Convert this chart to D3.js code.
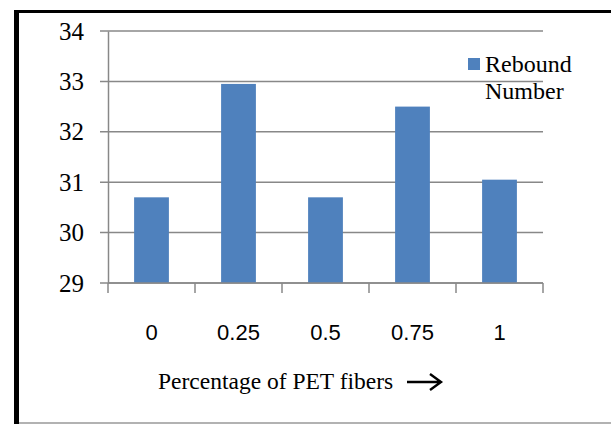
<!DOCTYPE html>
<html>
<head>
<meta charset="utf-8">
<script src="https://cdn.jsdelivr.net/npm/d3@7"></script>
<style>
  body { margin: 0; background: #fff; }
  svg { display: block; }
</style>
</head>
<body>
<svg id="chart" width="611" height="424"></svg>
<script>
// data
const categories = ["0", "0.25", "0.5", "0.75", "1"];
const rebound = [30.7, 32.95, 30.7, 32.5, 31.05];
const yTicks = [29, 30, 31, 32, 33, 34];
const seriesName = ["Rebound", "Number"];

const svg = d3.select("#chart");
const margin = { left: 108, right: 68, top: 31, bottom: 141 };
const W = 611, H = 424;

// frame round the chart
svg.append("line").attr("x1", 16.5).attr("x2", 16.5).attr("y1", 10).attr("y2", 424)
  .attr("stroke", "#000").attr("stroke-width", 5);
svg.append("line").attr("x1", 14).attr("x2", W).attr("y1", 11.5).attr("y2", 11.5)
  .attr("stroke", "#000").attr("stroke-width", 3);
svg.append("line").attr("x1", 19).attr("x2", W).attr("y1", 423).attr("y2", 423)
  .attr("stroke", "#999").attr("stroke-width", 1.5);

const x = d3.scaleBand()
  .domain(categories)
  .range([margin.left, W - margin.right])
  .paddingInner(0.6)
  .paddingOuter(0.3);

const y = d3.scaleLinear()
  .domain([29, 34])
  .range([H - margin.bottom, margin.top]);

// gridlines
svg.append("g")
  .selectAll("line")
  .data(yTicks)
  .join("line")
  .attr("x1", margin.left - 8)
  .attr("x2", W - margin.right)
  .attr("y1", d => y(d))
  .attr("y2", d => y(d))
  .attr("stroke", "#888")
  .attr("stroke-width", 1.5);

// bars
svg.append("g")
  .selectAll("rect")
  .data(rebound)
  .join("rect")
  .attr("x", (d, i) => x(categories[i]))
  .attr("width", x.bandwidth())
  .attr("y", d => y(d))
  .attr("height", d => y(29) - y(d))
  .attr("fill", "#4F81BD");

// y axis
const yAxis = svg.append("g")
  .attr("transform", `translate(${margin.left},0)`)
  .call(d3.axisLeft(y).tickValues(yTicks).tickFormat(d3.format("d")).tickSize(0).tickPadding(24));
yAxis.select(".domain").attr("stroke", "#888").attr("stroke-width", 1.5);
yAxis.selectAll("text")
  .style("font-family", "'Liberation Serif', serif")
  .style("font-size", "25px")
  .attr("fill", "#000");

// x axis: ticks sit on the band edges
const step = x.step();
const edges = d3.range(categories.length + 1).map(i => margin.left + i * step);
const xg = svg.append("g");
xg.append("line")
  .attr("x1", margin.left).attr("x2", W - margin.right)
  .attr("y1", y(29)).attr("y2", y(29))
  .attr("stroke", "#888").attr("stroke-width", 1.5);
xg.selectAll("line.tick")
  .data(edges)
  .join("line")
  .attr("class", "tick")
  .attr("x1", d => d).attr("x2", d => d)
  .attr("y1", y(29)).attr("y2", y(29) + 10)
  .attr("stroke", "#888").attr("stroke-width", 1.5);
xg.selectAll("text")
  .data(categories)
  .join("text")
  .attr("x", d => x(d) + x.bandwidth() / 2)
  .attr("y", y(29) + 57)
  .attr("text-anchor", "middle")
  .attr("font-family", "Liberation Sans, Arial, sans-serif")
  .attr("font-size", 22)
  .attr("fill", "#000")
  .text(d => d);

// x axis title with arrow
svg.append("text")
  .attr("x", 158)
  .attr("y", 389)
  .attr("font-family", "Liberation Serif, serif")
  .attr("font-size", 23.5)
  .attr("fill", "#000")
  .text("Percentage of PET fibers");
svg.append("path")
  .attr("d", "M407,382 H441 M430,374 L441,382 L430,390")
  .attr("fill", "none")
  .attr("stroke", "#000")
  .attr("stroke-width", 2.4);

// legend
svg.append("rect")
  .attr("x", 468).attr("y", 58).attr("width", 12).attr("height", 12)
  .attr("fill", "#4F81BD");
svg.append("text")
  .attr("font-family", "Liberation Serif, serif")
  .attr("font-size", 24)
  .attr("fill", "#000")
  .selectAll("tspan")
  .data(seriesName)
  .join("tspan")
  .attr("x", 485)
  .attr("y", (d, i) => 72 + i * 27)
  .text(d => d);
</script>
</body>
</html>
